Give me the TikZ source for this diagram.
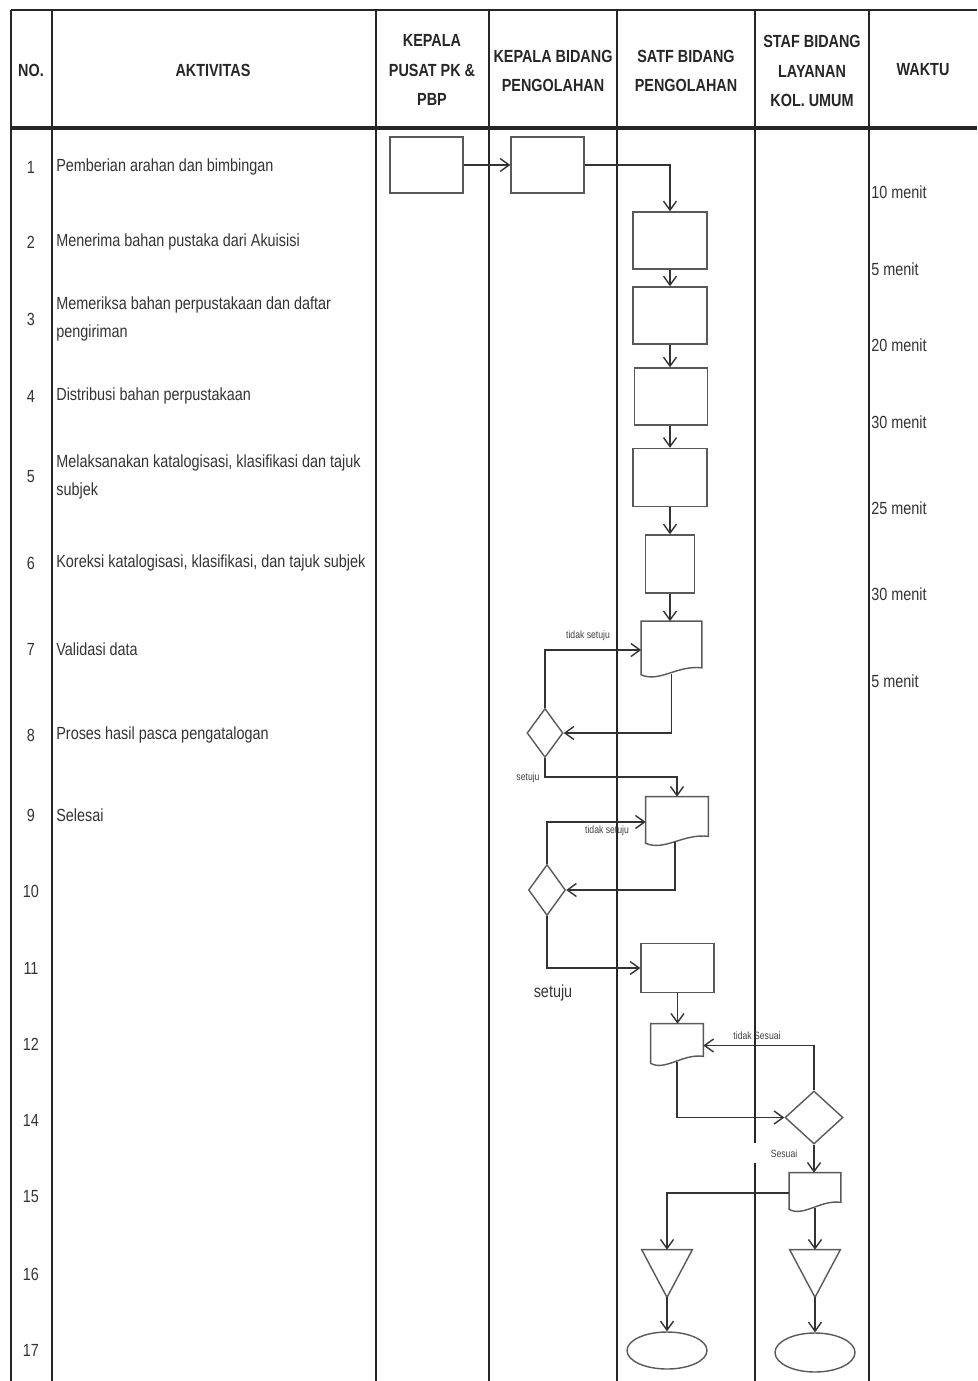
\documentclass[tikz,border=0pt]{standalone}
\usepackage{fontspec}
\setmainfont{Liberation Sans}[FakeStretch=0.82]
\usetikzlibrary{shapes.geometric,arrows.meta,calc}

\newcommand{\docline}[1]{%
\draw[box,fill=white] ($(#1.south west)+(0,-4)$) -- (#1.north west) -- (#1.north east) -- ($(#1.south east)+(0,-11)$)
  .. controls ($(#1.south)+(6,-14)$) and ($(#1.south)+(-12,4)$) .. ($(#1.south west)+(0,-4)$) -- cycle;}
\newcommand{\triline}[1]{%
\draw[box,fill=white] (#1.north west) -- (#1.north east) -- (#1.south) -- cycle;}

\begin{document}
\begin{tikzpicture}[x=0.02cm,y=-0.02cm,
  tabline/.style={line width=1.5pt,black!85},
  txt/.style={inner sep=0pt,text=black!80,font=\fontsize{10}{16}\selectfont},
  head/.style={inner sep=0pt,align=center,text=black!85,font=\fontsize{10}{17}\selectfont\bfseries},
  small/.style={inner sep=0pt,text=black!75,font=\fontsize{6}{7}\selectfont},
  box/.style={draw=black!65,line width=0.8pt,inner sep=0pt},
  ghost/.style={inner sep=0pt},
  flow/.style={line width=0.8pt,black!80,-{Straight Barb[length=1.8mm,width=2.6mm]}},
  plain/.style={line width=0.8pt,black!80}]
\useasboundingbox (0,0) rectangle (977,1381);

% table
\draw[tabline] (11,10)--(977,10);
\draw[tabline,line width=2.2pt] (11,128)--(977,128);
\draw[tabline] (11,10)--(11,1381);
\draw[tabline] (52,10)--(52,1381);
\draw[tabline] (376,10)--(376,1381);
\draw[tabline] (489,10)--(489,1381);
\draw[tabline] (617,10)--(617,1381);
\draw[tabline] (755,10)--(755,1143);
\draw[tabline] (755,1163)--(755,1381);
\draw[tabline] (869,10)--(869,1381);

% header
\node[head] (hno) at (31,70) {NO.};
\node[head] (hakt) at (213,70) {AKTIVITAS};
\node[head] (hkp) at (432,70) {KEPALA\\PUSAT PK \&\\PBP};
\node[head] (hkb) at (553,71) {KEPALA BIDANG\\PENGOLAHAN};
\node[head] (hsb) at (686,71) {SATF BIDANG\\PENGOLAHAN};
\node[head] (hsl) at (812,71) {STAF BIDANG\\LAYANAN\\KOL. UMUM};
\node[head] (hwk) at (923,70) {WAKTU};

% numbers
\node[txt] (n1) at (31,167) {1};
\node[txt] (n2) at (31,242) {2};
\node[txt] (n3) at (31,319) {3};
\node[txt] (n4) at (31,396) {4};
\node[txt] (n5) at (31,477) {5};
\node[txt] (n6) at (31,563) {6};
\node[txt] (n7) at (31,649) {7};
\node[txt] (n8) at (31,735) {8};
\node[txt] (n9) at (31,815) {9};
\node[txt] (n10) at (31,891) {10};
\node[txt] (n11) at (31,968) {11};
\node[txt] (n12) at (31,1044) {12};
\node[txt] (n14) at (31,1120) {14};
\node[txt] (n15) at (31,1197) {15};
\node[txt] (n16) at (31,1274) {16};
\node[txt] (n17) at (31,1350) {17};

% activities
\node[txt,anchor=west] (a1) at (56,167) {Pemberian arahan dan bimbingan};
\node[txt,anchor=west] (a2) at (56,242) {Menerima bahan pustaka dari Akuisisi};
\node[txt,anchor=west,align=left] (a3) at (56,319) {Memeriksa bahan perpustakaan dan daftar\\pengiriman};
\node[txt,anchor=west] (a4) at (56,396) {Distribusi bahan perpustakaan};
\node[txt,anchor=west,align=left] (a5) at (56,477) {Melaksanakan katalogisasi, klasifikasi dan tajuk\\subjek};
\node[txt,anchor=west] (a6) at (56,563) {Koreksi katalogisasi, klasifikasi, dan tajuk subjek};
\node[txt,anchor=west] (a7) at (56,649) {Validasi data};
\node[txt,anchor=west] (a8) at (56,735) {Proses hasil pasca pengatalogan};
\node[txt,anchor=west] (a9) at (56,815) {Selesai};

% waktu
\node[txt,anchor=west] (w1) at (871,192) {10 menit};
\node[txt,anchor=west] (w2) at (871,269) {5 menit};
\node[txt,anchor=west] (w3) at (871,345) {20 menit};
\node[txt,anchor=west] (w4) at (871,422) {30 menit};
\node[txt,anchor=west] (w5) at (871,508) {25 menit};
\node[txt,anchor=west] (w6) at (871,594) {30 menit};
\node[txt,anchor=west] (w7) at (871,681) {5 menit};

% shapes
\node[box,minimum width=1.46cm,minimum height=1.12cm] (b1) at (426.5,165) {};
\node[box,minimum width=1.46cm,minimum height=1.12cm] (b2) at (547.5,165) {};
\node[box,minimum width=1.48cm,minimum height=1.14cm] (b3) at (670,240.5) {};
\node[box,minimum width=1.48cm,minimum height=1.14cm] (b4) at (670,315.5) {};
\node[box,minimum width=1.46cm,minimum height=1.14cm] (b5) at (671,396.5) {};
\node[box,minimum width=1.48cm,minimum height=1.16cm] (b6) at (670,477.5) {};
\node[box,minimum width=0.98cm,minimum height=1.16cm] (b7) at (670,564) {};
\node[ghost,minimum width=1.2cm,minimum height=1.14cm] (doc1) at (671.5,650) {};
\docline{doc1}
\node[box,diamond,minimum width=0.72cm,minimum height=0.98cm] (d1) at (545,733) {};
\node[ghost,minimum width=1.24cm,minimum height=1.0cm] (doc2) at (677,822) {};
\docline{doc2}
\node[box,diamond,minimum width=0.74cm,minimum height=1.02cm] (d2) at (547,890) {};
\node[box,minimum width=1.46cm,minimum height=0.98cm] (b8) at (677.5,968) {};
\node[ghost,minimum width=1.04cm,minimum height=0.86cm] (doc3) at (677,1045.5) {};
\docline{doc3}
\node[box,diamond,minimum width=1.16cm,minimum height=1.06cm] (d3) at (814,1117.5) {};
\node[ghost,minimum width=1.02cm,minimum height=0.8cm] (doc4) at (815,1193) {};
\docline{doc4}
\node[ghost,minimum width=1.0cm,minimum height=0.94cm] (t1) at (667,1273.5) {};
\triline{t1}
\node[ghost,minimum width=1.0cm,minimum height=0.94cm] (t2) at (815,1273.5) {};
\triline{t2}
\node[box,ellipse,minimum width=1.6cm,minimum height=0.74cm] (e1) at (667,1350.5) {};
\node[box,ellipse,minimum width=1.6cm,minimum height=0.78cm] (e2) at (815,1352.5) {};

% connectors
\draw[flow] (b1.east) -- (b2.west);
\draw[flow] (b2.east) -| (b3.north);
\draw[flow] (b3.south) -- (b4.north);
\draw[flow] (b4.south) -- (b4.south |- b5.north);
\draw[flow] (b5.south -| b6.north) -- (b6.north);
\draw[flow] (b6.south) -- (b7.north);
\draw[flow] (b7.south) -- (b7.south |- doc1.north);
\draw[flow] ($(doc1.south)+(0,-5)$) |- (d1.east);
\draw[flow] (d1.north) |- (doc1.west);
\coordinate (c1) at (545,777);
\draw[flow] (d1.south) -- (c1) -| (doc2.north);
\draw[flow] ($(doc2.south)+(-2,-5)$) |- (d2.east);
\draw[flow] (d2.north) |- (doc2.west);
\draw[flow] (d2.south) |- (b8.west);
\draw[flow] (b8.south) -- (b8.south |- doc3.north);
\draw[flow] ($(doc3.south)+(0,-5)$) |- (d3.west);
\draw[flow] (d3.north) |- (doc3.east);
\draw[flow] (d3.south) -- (d3.south |- doc4.north);
\draw[flow] (doc4.west) -| (t1.north);
\draw[flow] ($(doc4.south)+(0,-5)$) -- (t2.north);
\draw[flow] (t1.south) -- (e1.north);
\draw[flow] (t2.south) -- (e2.north);

% labels
\node[small] (l1) at (588,636) {tidak setuju};
\node[small] (l2) at (528,778) {setuju};
\node[small] (l3) at (607,831) {tidak setuju};
\node[txt] (l4) at (553,993) {setuju};
\node[small] (l5) at (757,1036) {tidak Sesuai};
\node[small] (l6) at (784,1154) {Sesuai};
\end{tikzpicture}
\end{document}
